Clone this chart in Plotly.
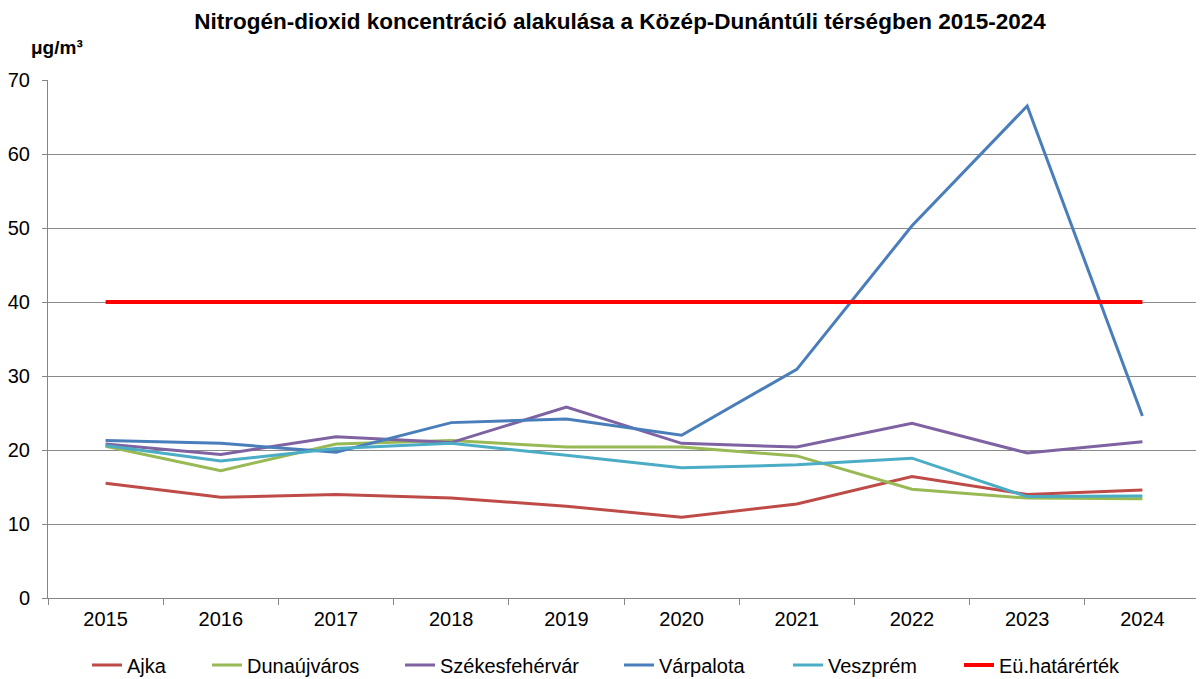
import plotly.graph_objects as go

years = ["2015", "2016", "2017", "2018", "2019", "2020", "2021", "2022", "2023", "2024"]
ajka = [15.5, 13.6, 14.0, 13.5, 12.4, 10.9, 12.7, 16.4, 14.0, 14.6]
dunaujvaros = [20.5, 17.2, 20.8, 21.3, 20.4, 20.4, 19.2, 14.7, 13.5, 13.4]
szekesfehervar = [20.8, 19.4, 21.8, 21.0, 25.8, 20.9, 20.4, 23.6, 19.6, 21.1]
varpalota = [21.3, 20.9, 19.7, 23.7, 24.2, 22.0, 30.9, 50.3, 66.5, 24.6]
veszprem = [20.6, 18.5, 20.2, 20.9, 19.3, 17.6, 18.0, 18.9, 13.7, 13.8]
hatarertek = [40, 40, 40, 40, 40, 40, 40, 40, 40, 40]

series = [
    ("Ajka", ajka, "#BE4B48", 3),
    ("Dunaújváros", dunaujvaros, "#98B954", 3),
    ("Székesfehérvár", szekesfehervar, "#7E62A1", 3),
    ("Várpalota", varpalota, "#4A7EBB", 3),
    ("Veszprém", veszprem, "#4BACC6", 3),
    ("Eü.határérték", hatarertek, "#FF0000", 4),
]

# The page body has an 8px margin, so the figure is drawn 8px right/down.
OFF = 8
W, H = 1204 - OFF, 679 - OFF
L, R, T, B = 48 - OFF, 4, 80 - OFF, 81
pw = W - L - R
ph = H - T - B
# pixel x (in the window) where each legend label text starts
legend_text_px = [127, 247, 440, 659, 828, 999]
legend_y_px = 665

fig = go.Figure()
layout_legends = {}
for i, (name, vals, color, lw) in enumerate(series):
    lname = "legend" if i == 0 else f"legend{i+1}"
    fig.add_trace(go.Scatter(x=years, y=vals, name=name, mode="lines",
                             line=dict(color=color, width=lw),
                             legend=lname))
    layout_legends[lname] = dict(
        orientation="h", x=(legend_text_px[i] - OFF - 40 - L) / pw, xanchor="left",
        y=-(legend_y_px - OFF - (T + ph)) / ph, yanchor="middle",
        font=dict(family="Liberation Sans, Arial", size=20, color="#000"),
        bgcolor="rgba(0,0,0,0)", borderwidth=0,
    )

fig.update_layout(
    width=W, height=H,
    margin=dict(l=L, r=R, t=T, b=B, autoexpand=False),
    paper_bgcolor="white", plot_bgcolor="white",
    font=dict(family="Liberation Sans, Arial", size=20, color="#000"),
    title=dict(text="<b>Nitrogén-dioxid koncentráció alakulása a Közép-Dunántúli térségben 2015-2024</b>",
               x=(620 - OFF) / W, xanchor="center", xref="container",
               y=1 - (21 - OFF) / H, yanchor="middle",
               font=dict(size=22.5, color="#000")),
    showlegend=True,
    **layout_legends,
)
fig.update_xaxes(type="category", range=[-0.5, 9.5], tickson="boundaries", ticks="outside", ticklen=6,
                 tickcolor="#868686", showline=True, linecolor="#868686", linewidth=1,
                 showgrid=False, ticklabelstandoff=3, tickfont=dict(size=20))
fig.update_yaxes(range=[0, 70], dtick=10, ticks="outside", ticklen=5, tickcolor="#868686",
                 showline=True, linecolor="#868686", linewidth=1,
                 showgrid=True, gridcolor="#8a8a8a", gridwidth=1, zeroline=False,
                 ticklabelstandoff=8, tickfont=dict(size=20))
fig.add_annotation(text="<b>μg/m³</b>", xref="paper", yref="paper",
                   x=(29 - OFF - L) / pw, xanchor="left", y=1 + (T - (47 - OFF)) / ph, yanchor="middle",
                   showarrow=False, font=dict(size=19, color="#000"))

fig.write_html("out.html")
